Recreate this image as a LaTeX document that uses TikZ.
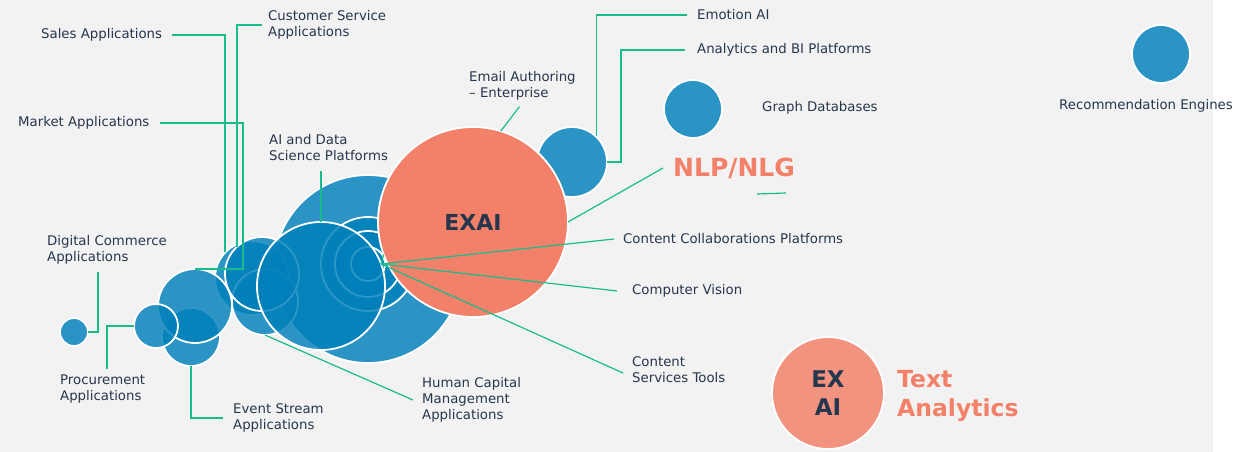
\documentclass[tikz,border=0pt]{standalone}
\usepackage{fontspec}
\setmainfont{DejaVu Sans}
\definecolor{bggray}{RGB}{242,242,242}
\definecolor{bubblue}{RGB}{0,128,186}
\definecolor{exorange}{RGB}{243,128,104}
\definecolor{exlight}{RGB}{242,147,128}
\definecolor{linkgreen}{RGB}{24,188,140}
\definecolor{navy}{RGB}{38,54,76}
\tikzset{
  bub/.style={circle, inner sep=0pt, outer sep=0pt, fill=bubblue, fill opacity=0.82,
    draw=white, line width=1.8pt, minimum size=#1},
  exbub/.style={circle, inner sep=0pt, outer sep=0pt, draw=white, line width=1.8pt,
    text=navy, align=center, minimum size=#1},
  lbl/.style={inner sep=0pt, text=navy, align=left, font=\fontsize{13.3}{16}\selectfont},
  bigtxt/.style={inner sep=0pt, text=exorange, align=left},
  link/.style={draw=linkgreen, line width=1.2pt},
}
\begin{document}
\begin{tikzpicture}[x=1pt,y=-1pt]
  \useasboundingbox (0,0) rectangle (1234,452);
  % Background
  \fill[white]  (0,0) rectangle (1234,452);
  \fill[bggray] (0,0) rectangle (1213,452);

  % Draw bubbles
  \node[bub=188pt] (dsp)   at (368,269) {};
  \node[bub=70pt]  (emo)   at (572,162) {};
  \node[bub=94pt]  (ring1) at (368,264) {};
  \node[bub=66pt]  (ring2) at (368,264) {};
  \node[bub=34pt]  (ring3) at (368,264) {};
  \node[bub=74pt]  (lcb)   at (252,278) {};
  \node[bub=66pt]  (lcc)   at (265,302) {};
  \node[bub=74pt]  (lca)   at (262,274) {};
  \node[bub=128pt] (dark)  at (321,286) {};
  \node[bub=58pt]  (evs)   at (191,337) {};
  \node[bub=74pt]  (lcd)   at (195,306) {};
  \node[bub=44pt]  (prc)   at (156,326) {};
  \node[bub=28pt]  (dgc)   at (74,332)  {};
  \node[bub=58pt]  (gdb)   at (693,109) {};
  \node[bub=58pt]  (rec)   at (1161,54) {};
  % EXAI bubbles
  \node[exbub=190pt, fill=exorange, font=\bfseries\fontsize{22}{26}\selectfont]
    (exai) at (473,222) {EXAI};
  \node[exbub=112pt, fill=exlight, font=\bfseries\fontsize{23}{28}\selectfont]
    (exai2) at (828,393) {EX\\AI};

  % Labels
  \node[lbl, anchor=west] (sales)      at (41,35)   {Sales Applications};
  \node[lbl, anchor=west] (custsvc)    at (268,25)  {Customer Service\\Applications};
  \node[lbl, anchor=west] (market)     at (18,123)  {Market Applications};
  \node[lbl, anchor=west] (aidsp)      at (269,148) {AI and Data\\Science Platforms};
  \node[lbl, anchor=west] (email)      at (469,86)  {Email Authoring\\– Enterprise};
  \node[lbl, anchor=west] (emotion)    at (697,15)  {Emotion AI};
  \node[lbl, anchor=west] (analytics)  at (697,50)  {Analytics and BI Platforms};
  \node[lbl, anchor=west] (graphdb)    at (762,108) {Graph Databases};
  \node[lbl]              (recomm)     at (1146,106) {Recommendation Engines};
  \node[lbl, anchor=west] (contcollab) at (623,239) {Content Collaborations Platforms};
  \node[lbl, anchor=west] (compvis)    at (632,291) {Computer Vision};
  \node[lbl, anchor=west] (contsvc)    at (632,370) {Content\\Services Tools};
  \node[lbl, anchor=west] (humcap)     at (422,400) {Human Capital\\Management\\Applications};
  \node[lbl, anchor=west] (evstream)   at (233,418) {Event Stream\\Applications};
  \node[lbl, anchor=west] (procure)    at (60,389)  {Procurement\\Applications};
  \node[lbl, anchor=west] (digcom)     at (47,250)  {Digital Commerce\\Applications};
  \node[bigtxt, anchor=west, font=\bfseries\fontsize{25}{30}\selectfont]
    (nlp) at (673,168) {NLP/NLG};
  \node[bigtxt, anchor=west, font=\bfseries\fontsize{23.5}{29}\selectfont]
    (textan) at (897,396) {Text\\Analytics};

  % Draw connectors
  \coordinate (hub)     at (381,264);
  \coordinate (sa-end)  at (225,252);
  \coordinate (cs-end)  at (237,247);
  \coordinate (mk-turn) at (243,269);
  \coordinate (emo-top) at (596.5,136);
  \coordinate (an-turn) at (621,162);
  \draw[link] ([xshift=10pt]sales.east) -| (sa-end);
  \draw[link] ([xshift=-6pt]custsvc.west) -| (cs-end);
  \draw[link] ([xshift=10pt]market.east) -| (mk-turn) -- (lcd.north);
  \draw[link] (dark.north) -- ([xshift=52pt,yshift=-10pt]aidsp.south west);
  \draw[link] (exai.73) -- ([xshift=-3pt,yshift=-6pt]email.south);
  \draw[link] ([xshift=-10pt]emotion.west) -| (emo-top);
  \draw[link] ([xshift=-12pt]analytics.west) -| (an-turn) -- (emo.east);
  \draw[link] (exai.east) -- ([xshift=-10pt]nlp.west);
  \draw[link] ([xshift=84pt,yshift=-26pt]nlp.west) -- ++(29,-1);
  \draw[link] (hub) -- (exai.200);
  \draw[link] (hub) -- ([xshift=-9pt]contcollab.west);
  \draw[link] (hub) -- ([xshift=-15pt]compvis.west);
  \draw[link] (hub) -- ([xshift=-9pt,yshift=-3pt]contsvc.west);
  \draw[link] ([xshift=-9pt]humcap.west) -- (lcc.south);
  \draw[link] ([xshift=51pt,yshift=-7pt]digcom.south west) |- (dgc.east);
  \draw[link] ([xshift=47pt,yshift=6pt]procure.north west) |- (prc.west);
  \draw[link] (evs.south) |- ([xshift=-10pt]evstream.west);
\end{tikzpicture}
\end{document}
